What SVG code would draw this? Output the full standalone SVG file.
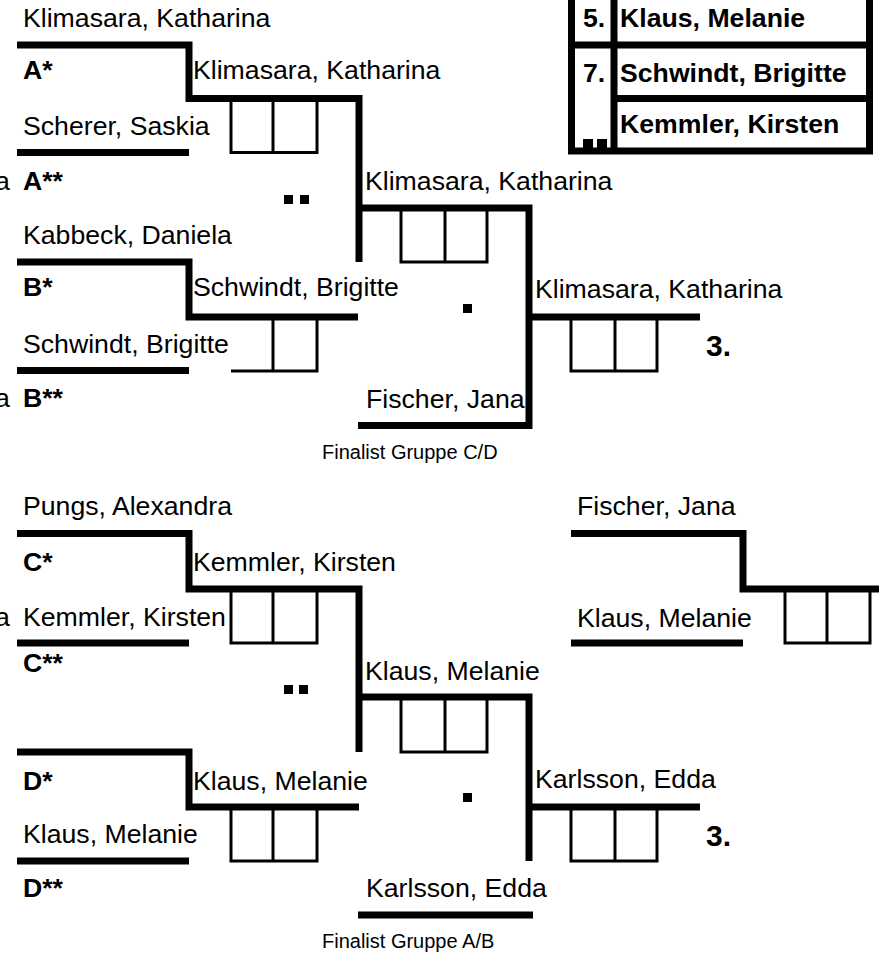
<svg xmlns="http://www.w3.org/2000/svg" width="879" height="957" viewBox="0 0 879 957">
<style>
.ln{fill:none;stroke:#000;stroke-width:7;stroke-linejoin:miter;stroke-linecap:butt}
.bx{fill:none;stroke:#000;stroke-width:3}
.t{font-family:"Liberation Sans",Arial,sans-serif;font-size:26.67px;fill:#000}
.b{font-weight:bold}
.s{font-size:20px}
.r{font-size:30px}
.dot{fill:#000}
</style>
<rect width="879" height="957" fill="#fff"/>
<g id="connectors">
<path class="ln" d="M17,45 H189 V98.5 H359 V262"/>
<path class="ln" d="M17,152.5 H189"/>
<path class="ln" d="M17,262 H189 V317 H358"/>
<path class="ln" d="M17,370.5 H189"/>
<path class="ln" d="M359,208 H529 V425.5 H358"/>
<path class="ln" d="M529,317 H700"/>
<path class="ln" d="M17,533.5 H189 V589 H359 V752"/>
<path class="ln" d="M17,643 H189"/>
<path class="ln" d="M17,752 H189 V807 H359"/>
<path class="ln" d="M17,861 H189"/>
<path class="ln" d="M359,697 H529 V861"/>
<path class="ln" d="M358,915 H533"/>
<path class="ln" d="M529,807 H700"/>
<path class="ln" d="M571,533.5 H743 V589 H879"/>
<path class="ln" d="M571,643 H743"/>
</g>
<g id="match-A">
<text class="t" x="23" y="27">Klimasara, Katharina</text>
<text class="t b" x="23" y="79">A*</text>
<text class="t" x="23" y="135">Scherer, Saskia</text>
<text class="t" x="-5" y="190">a</text>
<text class="t b" x="23" y="190">A**</text>
</g>
<g id="score-A">
<text class="t" x="193" y="79">Klimasara, Katharina</text>
<path class="bx" d="M231,100 V152.5 H317 V100 M273,100 V152.5"/>
<rect class="dot" x="284" y="195" width="9" height="9"/>
<rect class="dot" x="300" y="195" width="9" height="9"/>
</g>
<g id="match-B">
<text class="t" x="23" y="244">Kabbeck, Daniela</text>
<text class="t b" x="23" y="296">B*</text>
<text class="t" x="23" y="353">Schwindt, Brigitte</text>
<text class="t" x="-5" y="407">a</text>
<text class="t b" x="23" y="407">B**</text>
</g>
<g id="score-B">
<text class="t" x="193" y="296">Schwindt, Brigitte</text>
<path class="bx" d="M231,371 H317 V319 M273,371 V319"/>
</g>
<g id="semi-AB">
<text class="t" x="365" y="190">Klimasara, Katharina</text>
<path class="bx" d="M401,210 V262 H487 V210 M445,210 V262"/>
<rect class="dot" x="463" y="304" width="9" height="9"/>
<text class="t" x="366" y="408">Fischer, Jana</text>
<text class="t s" x="322" y="459">Finalist Gruppe C/D</text>
</g>
<g id="final-top">
<text class="t" x="535" y="298">Klimasara, Katharina</text>
<path class="bx" d="M571,319 V371 H657 V319 M615,319 V371"/>
<text class="t b r" x="706" y="356">3.</text>
</g>
<g id="ranking">
<path class="ln" d="M571.5,0 V154.5 M614,0 V151 M869.5,0 V154.5 M568,151 H873 M571.5,45 H869.5 M614,98.5 H869.5"/>
<text class="t b" x="583" y="27">5.</text>
<text class="t b" x="620" y="27">Klaus, Melanie</text>
<text class="t b" x="583" y="82">7.</text>
<text class="t b" x="620" y="82">Schwindt, Brigitte</text>
<text class="t b" x="620" y="133">Kemmler, Kirsten</text>
<rect class="dot" x="583" y="139" width="10" height="9"/>
<rect class="dot" x="597" y="139" width="10" height="9"/>
</g>
<g id="match-C">
<text class="t" x="23" y="515">Pungs, Alexandra</text>
<text class="t b" x="23" y="571">C*</text>
<text class="t" x="-5" y="626">a</text>
<text class="t" x="23" y="626">Kemmler, Kirsten</text>
<text class="t b" x="23" y="672">C**</text>
</g>
<g id="score-C">
<text class="t" x="193" y="571">Kemmler, Kirsten</text>
<path class="bx" d="M231,591 V643 H317 V591 M273,591 V643"/>
<rect class="dot" x="284" y="685" width="9" height="9"/>
<rect class="dot" x="299" y="685" width="9" height="9"/>
</g>
<g id="match-D">
<text class="t b" x="23" y="790">D*</text>
<text class="t" x="23" y="843">Klaus, Melanie</text>
<text class="t b" x="23" y="897">D**</text>
</g>
<g id="score-D">
<text class="t" x="193" y="790">Klaus, Melanie</text>
<path class="bx" d="M231,809 V861 H317 V809 M273,809 V861"/>
</g>
<g id="semi-CD">
<text class="t" x="365" y="680">Klaus, Melanie</text>
<path class="bx" d="M401,699 V752 H487 V699 M445,699 V752"/>
<rect class="dot" x="463" y="793" width="9" height="9"/>
<text class="t" x="366" y="897">Karlsson, Edda</text>
<text class="t s" x="322" y="948">Finalist Gruppe A/B</text>
</g>
<g id="final-bottom">
<text class="t" x="535" y="788">Karlsson, Edda</text>
<path class="bx" d="M571,809 V861 H657 V809 M615,809 V861"/>
<text class="t b r" x="706" y="846">3.</text>
</g>
<g id="match-right">
<text class="t" x="577" y="515">Fischer, Jana</text>
<text class="t" x="577" y="627">Klaus, Melanie</text>
<path class="bx" d="M785,591 V643 H870 V591 M827,591 V643"/>
</g>
</svg>
